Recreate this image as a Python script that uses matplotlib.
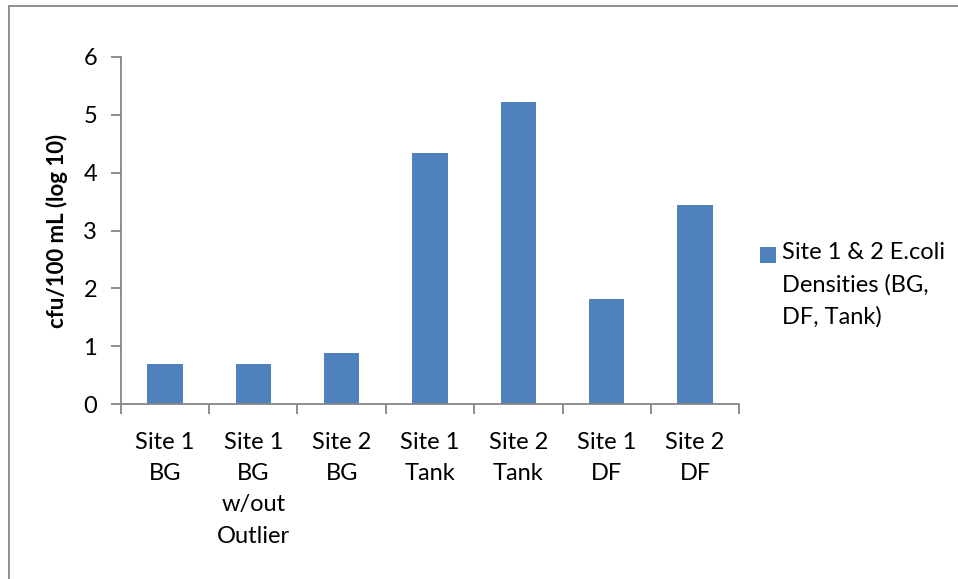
import matplotlib
matplotlib.use("Agg")
import matplotlib.pyplot as plt
from matplotlib.patches import Rectangle
from matplotlib.ticker import FixedLocator, NullFormatter

plt.rcParams['font.family'] = ['Lato', 'DejaVu Sans']

categories = ["Site 1\nBG", "Site 1\nBG\nw/out\nOutlier", "Site 2\nBG",
              "Site 1\nTank", "Site 2\nTank", "Site 1\nDF", "Site 2\nDF"]
values = [0.70, 0.70, 0.88, 4.33, 5.21, 1.81, 3.44]
series_label = "Site 1 & 2 E.coli\nDensities (BG,\nDF, Tank)"
y_label = "cfu/100 mL (log 10)"
y_ticks = [0, 1, 2, 3, 4, 5, 6]

W, H = 958, 579
bar_color = "#4F81BD"
axis_color = "#868686"

fig = plt.figure(figsize=(W / 100, H / 100), dpi=100)

# outer chart-area border
fig.patches.append(Rectangle((9 / W, -0.1), 1.2, (H - 6) / H + 0.1,
                             transform=fig.transFigure, fill=False,
                             edgecolor=axis_color, linewidth=1.3, zorder=0))

ax = fig.add_axes([120.7 / W, 1 - 404.3 / H, (739.3 - 120.7) / W, (404.3 - 56.7) / H])
x = list(range(len(categories)))
ax.bar(x, values, width=0.4, color=bar_color, edgecolor="none", zorder=2)

ax.set_xlim(-0.5, len(categories) - 0.5)
ax.set_ylim(0, 6)
ax.set_yticks(y_ticks)
ax.set_yticklabels([str(t) for t in y_ticks], fontsize=17)

# category boundaries carry the tick marks, centers carry the labels
ax.xaxis.set_major_locator(FixedLocator([i - 0.5 for i in range(len(categories) + 1)]))
ax.xaxis.set_major_formatter(NullFormatter())
ax.xaxis.set_minor_locator(FixedLocator(x))
ax.set_xticklabels(categories, minor=True, fontsize=17, linespacing=1.6, va="top")
ax.tick_params(axis="x", which="minor", length=0, pad=20)
ax.tick_params(axis="x", which="major", length=7, width=1.3, color=axis_color, direction="out")
ax.tick_params(axis="y", length=7, width=1.3, color=axis_color, direction="out", pad=10)

for side in ("top", "right"):
    ax.spines[side].set_visible(False)
for side in ("left", "bottom"):
    ax.spines[side].set_color(axis_color)
    ax.spines[side].set_linewidth(1.3)

ax.set_ylabel(y_label, fontsize=16, fontweight="bold", labelpad=11)

# legend entry: square swatch next to a wrapped label
fig.patches.append(Rectangle((760 / W, 1 - 263 / H), 15.7 / W, 16 / H,
                             transform=fig.transFigure, facecolor=bar_color,
                             edgecolor="none"))
fig.text(781.7 / W, 1 - 242 / H, series_label, fontsize=17, va="top", ha="left",
         linespacing=1.62)

fig.savefig("out.png", dpi=100)
